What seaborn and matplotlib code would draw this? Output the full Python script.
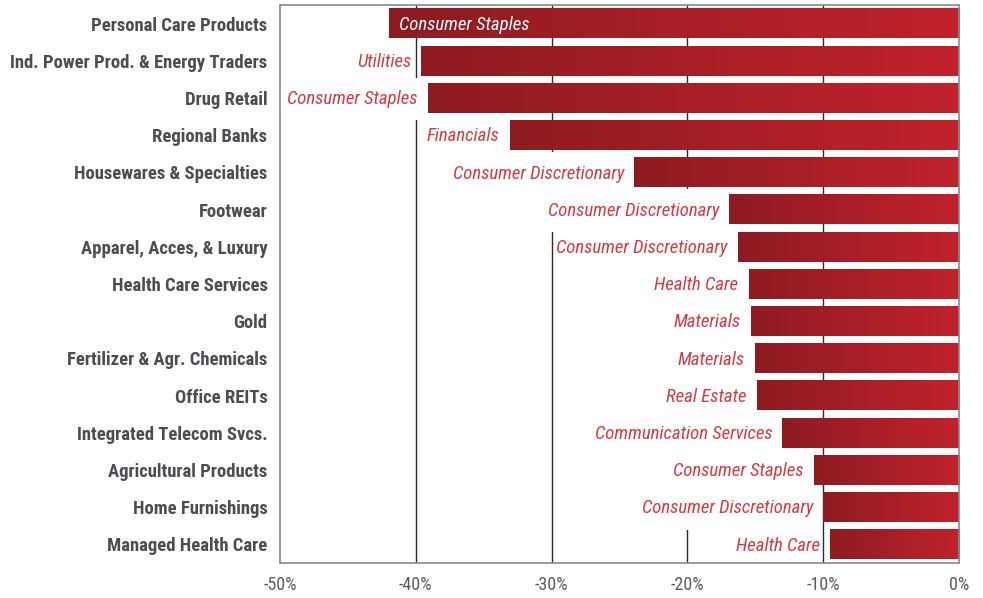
import matplotlib
matplotlib.use("Agg")
import numpy as np
import pandas as pd
import seaborn as sns
import matplotlib.pyplot as plt
from matplotlib import font_manager as fm
from matplotlib.colors import LinearSegmentedColormap
from matplotlib.ticker import FuncFormatter
from matplotlib.path import Path

industries = [
    "Personal Care Products",
    "Ind. Power Prod. & Energy Traders",
    "Drug Retail",
    "Regional Banks",
    "Housewares & Specialties",
    "Footwear",
    "Apparel, Acces, & Luxury",
    "Health Care Services",
    "Gold",
    "Fertilizer & Agr. Chemicals",
    "Office REITs",
    "Integrated Telecom Svcs.",
    "Agricultural Products",
    "Home Furnishings",
    "Managed Health Care",
]
changes = [-42.0, -39.6, -39.1, -33.1, -23.9, -16.9, -16.3, -15.5, -15.3,
           -15.0, -14.9, -13.0, -10.7, -10.0, -9.5]
sectors = [
    "Consumer Staples", "Utilities", "Consumer Staples", "Financials",
    "Consumer Discretionary", "Consumer Discretionary", "Consumer Discretionary",
    "Health Care", "Materials", "Materials", "Real Estate",
    "Communication Services", "Consumer Staples", "Consumer Discretionary",
    "Health Care",
]
xticks = [-50, -40, -30, -20, -10, 0]

names = {f.name for f in fm.fontManager.ttflist}
fam = "DejaVu Sans"
for cand in ["Roboto Condensed", "Liberation Sans Narrow", "Open Sans Condensed", "Liberation Sans"]:
    if cand in names:
        fam = cand
        break

sns.set_theme(style="white")
plt.rcParams["font.family"] = [fam, "DejaVu Sans"]


def tall_box(x0, y0, width, height, mutation_size):
    px = 0.02 * mutation_size
    py = 0.66 * mutation_size
    x0, y0 = x0 - px, y0 - py
    x1, y1 = x0 + width + 2 * px, y0 + height + 2 * py
    return Path([(x0, y0), (x1, y0), (x1, y1), (x0, y1), (x0, y0)], closed=True)


fig = plt.figure(figsize=(9.83, 5.98), dpi=100)
ax = fig.add_axes([280 / 983, 1 - 563 / 598, (959 - 280) / 983, (563 - 5) / 598])

df = pd.DataFrame({"industry": industries, "change": changes})
sns.barplot(data=df, y="industry", x="change", orient="h", width=0.8,
            color="#a81e26", ax=ax)

cmap = LinearSegmentedColormap.from_list("g", ["#8e1b22", "#c1222b"])
grad = np.linspace(0, 1, 256).reshape(1, -1)
for p in list(ax.patches):
    x0, w, y0, h = p.get_x(), p.get_width(), p.get_y(), p.get_height()
    xl, xr = min(x0, x0 + w), max(x0, x0 + w)
    p.set_visible(False)
    ax.imshow(grad, cmap=cmap, extent=(xl, xr, y0 + h, y0), aspect="auto",
              zorder=2, interpolation="bilinear")

ax.set_xlim(-50, 0)
ax.set_ylim(len(industries) - 0.5, -0.5)

for g in xticks[1:-1]:
    ax.axvline(g, color="#2b2b2b", lw=1.0, zorder=0.5)

for i, (v, s) in enumerate(zip(changes, sectors)):
    if i == 0:
        ax.text(v + 0.75, i + 0.03, s, color="white", ha="left", va="center",
                style="italic", fontsize=13.5, zorder=4)
    else:
        ax.text(v - 0.75, i + 0.03, s, color="#d63a41", ha="right", va="center",
                style="italic", fontsize=13.5, zorder=1,
                bbox=dict(boxstyle=tall_box, fc="white", ec="none"))

ax.set_xticks(xticks)
ax.xaxis.set_major_formatter(FuncFormatter(lambda v, _: f"{v:.0f}%"))
ax.tick_params(axis="x", length=0, pad=9, labelsize=13, labelcolor="#5a5c62")
ax.tick_params(axis="y", length=0, pad=9, labelsize=13.4, labelcolor="#4b4d53")
for lab in ax.get_yticklabels():
    lab.set_fontweight("bold")
ax.set_xlabel("")
ax.set_ylabel("")
for sp in ax.spines.values():
    sp.set_visible(True)
    sp.set_color("#8a8a8a")
    sp.set_linewidth(1.2)

fig.savefig("out.png", dpi=100)
